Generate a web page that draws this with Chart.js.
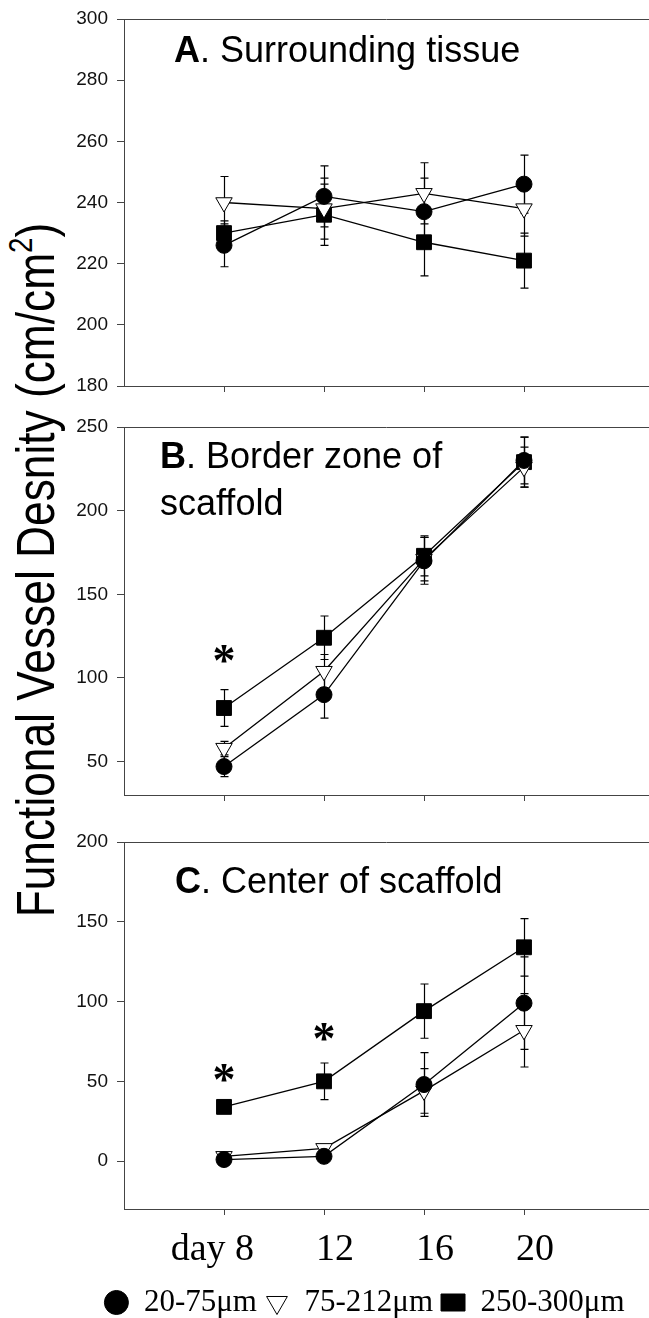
<!DOCTYPE html>
<html>
<head>
<meta charset="utf-8">
<script src="https://cdn.jsdelivr.net/npm/chart.js@4.4.1/dist/chart.umd.min.js"></script>
<style>
  html, body { margin: 0; padding: 0; background: #fff; }
  body { width: 649px; height: 1318px; position: relative; overflow: hidden; }
  canvas { position: absolute; left: 0; }
  #ytitle {
    position: absolute; left: 35px; top: 570px;
    font: 54px "Liberation Sans", Arial, sans-serif; color: #000;
    white-space: nowrap; line-height: 1;
    transform: translate(-50%, -50%) rotate(-90deg) scaleX(0.82);
  }
  #ytitle sup { font-size: 34px; line-height: 0; vertical-align: 22px; }
</style>
</head>
<body>
<div id="ytitle">Functional Vessel Desnity (cm/cm<sup>2</sup>)</div>
<canvas id="panelA" width="649" height="400" style="top:0px"></canvas>
<canvas id="panelB" width="649" height="400" style="top:408px"></canvas>
<canvas id="panelC" width="649" height="505" style="top:823px"></canvas>
<script>
const days = [8, 12, 16, 20];
const dayLabels = ['day 8', '12', '16', '20'];
const seriesNames = ['20-75μm', '75-212μm', '250-300μm'];

// A. Surrounding tissue
const smallA = [226, 242, 237, 246];
const smallAErr = [7, 10, 11, 9.5];
const midA = [240, 238, 243, 238];
const midAErr = [8.5, 10, 10, 9];
const largeA = [230, 236, 227, 221];
const largeAErr = [4, 10, 11, 9];
const ticksA = [180, 200, 220, 240, 260, 280, 300];

// B. Border zone of scaffold
const smallB = [47, 90, 170, 230];
const smallBErr = [6, 14, 14, 14];
const midB = [58, 104, 171, 226];
const midBErr = [4, 10, 13, 12];
const largeB = [82, 124, 173, 229];
const largeBErr = [11, 13, 12, 15];
const ticksB = [50, 100, 150, 200, 250];
const starsB = [[8, 114]];

// C. Center of scaffold
const smallC = [1, 3, 48, 99];
const smallCErr = [1, 1, 20, 29];
const midC = [3, 8, 44, 82];
const midCErr = [1, 1, 14, 23];
const largeC = [34, 50, 94, 134];
const largeCErr = [4, 11.5, 17, 18];
const ticksC = [0, 50, 100, 150, 200];
const starsC = [[8, 55], [12, 81]];

const SANS = '"Liberation Sans", Arial, sans-serif';
const SERIF = '"Liberation Serif", "Times New Roman", serif';
const AXIS = '#444';

const toPoints = vals => vals.map((v, i) => ({ x: days[i], y: v }));

// error bars, top frame line, panel title and asterisks
const panelDecor = {
  id: 'panelDecor',
  afterLayout(chart, args, opts) {
    // legend sits a bit right of the page centre in the original
    if (chart.legend && opts.legendDx) {
      chart.legend.left += opts.legendDx;
      chart.legend.right += opts.legendDx;
    }
  },
  beforeDatasetsDraw(chart, args, opts) {
    const { ctx, chartArea: a, scales: { x, y } } = chart;
    ctx.save();
    ctx.strokeStyle = AXIS;
    ctx.lineWidth = 1;
    ctx.beginPath();
    ctx.moveTo(a.left, Math.round(a.top) + 0.5);
    ctx.lineTo(a.right, Math.round(a.top) + 0.5);
    ctx.stroke();

    ctx.strokeStyle = '#000';
    ctx.lineWidth = 1.2;
    chart.data.datasets.forEach((ds, i) => {
      const errs = opts.errors[i];
      ds.data.forEach((p, j) => {
        const px = Math.round(x.getPixelForValue(p.x)) + 0.5;
        const top = y.getPixelForValue(p.y + errs[j]);
        const bot = y.getPixelForValue(p.y - errs[j]);
        ctx.beginPath();
        ctx.moveTo(px, top); ctx.lineTo(px, bot);
        ctx.moveTo(px - 4, top); ctx.lineTo(px + 4, top);
        ctx.moveTo(px - 4, bot); ctx.lineTo(px + 4, bot);
        ctx.stroke();
      });
    });
    ctx.restore();
  },
  afterDatasetsDraw(chart, args, opts) {
    const { ctx, chartArea: a, scales: { x, y } } = chart;
    ctx.save();
    ctx.fillStyle = '#000';
    ctx.textBaseline = 'alphabetic';
    opts.title.forEach((line, k) => {
      let tx = a.left + opts.titleX;
      const ty = a.top + opts.titleY + k * 47;
      if (line[0]) {
        ctx.font = 'bold 36px ' + SANS;
        ctx.fillText(line[0], tx, ty);
        tx += ctx.measureText(line[0]).width;
      }
      ctx.font = '36px ' + SANS;
      ctx.fillText(line[1], tx, ty);
    });
    ctx.font = 'bold 46px ' + SERIF;
    ctx.textAlign = 'center';
    opts.stars.forEach(s => {
      ctx.fillText('*', x.getPixelForValue(s[0]), y.getPixelForValue(s[1]) + 0.47 * 46);
    });
    ctx.restore();
  }
};

function makePanel(id, sets, errors, yMin, yMax, yTicks, xHeight, decor, showLabels) {
  return new Chart(document.getElementById(id), {
    type: 'line',
    data: {
      datasets: [
        {
          label: seriesNames[0], data: toPoints(sets[0]),
          borderColor: '#000', borderWidth: 1.3,
          pointStyle: 'circle', pointRadius: 8,
          pointBackgroundColor: '#000', pointBorderColor: '#000', pointBorderWidth: 1
        },
        {
          label: seriesNames[1], data: toPoints(sets[1]),
          borderColor: '#000', borderWidth: 1.3,
          pointStyle: 'triangle', pointRotation: 180, pointRadius: 9.5,
          pointBackgroundColor: '#fff', pointBorderColor: '#000', pointBorderWidth: 1
        },
        {
          label: seriesNames[2], data: toPoints(sets[2]),
          borderColor: '#000', borderWidth: 1.3,
          pointStyle: 'rect', pointRadius: 10.5,
          pointBackgroundColor: '#000', pointBorderColor: '#000', pointBorderWidth: 1
        }
      ]
    },
    options: {
      responsive: false,
      animation: false,
      events: [],
      layout: { autoPadding: false, padding: { top: 19, left: 0, right: 0, bottom: 0 } },
      plugins: {
        legend: {
          display: showLabels,
          position: 'bottom',
          labels: {
            usePointStyle: true,
            pointStyleWidth: 24,
            boxHeight: 17,
            padding: 8,
            color: '#000',
            font: { family: SERIF, size: 31 }
          }
        },
        tooltip: { enabled: false },
        panelDecor: Object.assign({ errors, legendDx: 40 }, decor)
      },
      scales: {
        x: {
          type: 'linear', min: 4, max: 25,
          afterBuildTicks: s => { s.ticks = days.map(v => ({ value: v })); },
          afterFit: s => { s.height = xHeight; s.paddingLeft = 0; s.paddingRight = 0; },
          grid: { drawOnChartArea: false, drawTicks: true, tickLength: 6, color: AXIS },
          border: { color: AXIS, width: 1 },
          ticks: {
            display: showLabels,
            align: 'end',
            labelOffset: 30,
            padding: 12,
            color: '#000',
            font: { family: SERIF, size: 38 },
            callback: v => dayLabels[days.indexOf(v)]
          }
        },
        y: {
          min: yMin, max: yMax,
          afterBuildTicks: s => { s.ticks = yTicks.map(v => ({ value: v })); },
          afterFit: s => { s.width = 124; s.paddingTop = 0; s.paddingBottom = 0; },
          grid: { drawOnChartArea: false, drawTicks: true, tickLength: 7, color: AXIS },
          border: { color: AXIS, width: 1 },
          ticks: { padding: 9, color: '#111', font: { family: SANS, size: 19 } }
        }
      }
    },
    plugins: [panelDecor]
  });
}

makePanel('panelA', [smallA, midA, largeA], [smallAErr, midAErr, largeAErr],
  180, 300, ticksA, 14,
  { title: [['A', '. Surrounding tissue']], titleX: 50, titleY: 43, stars: [] }, false);

makePanel('panelB', [smallB, midB, largeB], [smallBErr, midBErr, largeBErr],
  30, 250, ticksB, 13,
  { title: [['B', '. Border zone of'], ['', 'scaffold']], titleX: 36, titleY: 41, stars: starsB }, false);

makePanel('panelC', [smallC, midC, largeC], [smallCErr, midCErr, largeCErr],
  -30, 200, ticksC, 70,
  { title: [['C', '. Center of scaffold']], titleX: 51, titleY: 51, stars: starsC }, true);
</script>
</body>
</html>
